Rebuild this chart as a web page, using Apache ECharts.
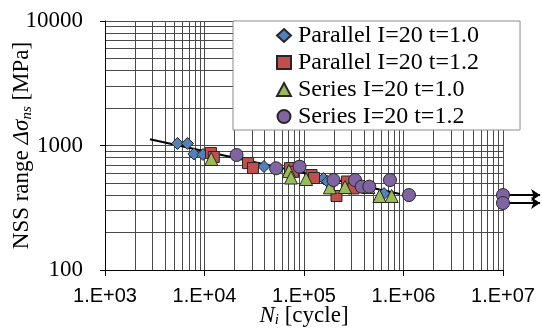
<!DOCTYPE html>
<html>
<head>
<meta charset="utf-8">
<script src="https://cdn.jsdelivr.net/npm/echarts@6/dist/echarts.min.js"></script>
<style>
  html, body { margin: 0; padding: 0; background: #fff; }
  #chart { width: 542px; height: 329px; }
</style>
</head>
<body>
<div id="chart"></div>
<script>
// [N cycles, stress range MPa]
var parallelT10 = [[5350, 1038], [6740, 1038], [7830, 855], [9660, 847], [39600, 678],
  [157000, 543], [172000, 514], [637000, 411]];
var parallelT12 = [[11600, 871], [12400, 809], [27400, 722], [30700, 659], [72300, 659],
  [77500, 613], [119000, 579], [126000, 548], [212000, 393], [271000, 514], [314000, 452]];
var seriesT10 = [[11700, 780], [70600, 623], [74000, 553], [105000, 538], [182000, 461],
  [258000, 464], [444000, 464], [574000, 393], [760000, 393]];
var seriesT12 = [[21000, 839], [52400, 656], [90200, 676], [198000, 528], [326000, 528],
  [380000, 467], [453000, 467], [731000, 528], [1135000, 400], [10000000, 400], [10000000, 345]];
var trendLine = [[2830, 1122], [922000, 408]];
var runouts = [[[10000000, 400], [23600000, 400]], [[10000000, 345], [23600000, 345]]];

var xTicks = [1e3, 1e4, 1e5, 1e6, 1e7];
var yTicks = [100, 1000, 10000];

var serif = '"Liberation Serif", "Times New Roman", serif';
var gridColor = '#4a4a4a';

function scatter(name, data, symbol, size, color) {
  return {
    name: name,
    type: 'scatter',
    data: data,
    symbol: symbol,
    symbolSize: size,
    clip: false,
    z: 4,
    itemStyle: { color: color, borderColor: '#262626', borderWidth: 1, opacity: 1 }
  };
}

var chart = echarts.init(document.getElementById('chart'));
var option = {
  animation: false,
  backgroundColor: '#fff',
  grid: { left: 105, right: 39, top: 21, bottom: 59, containLabel: false, outerBoundsMode: 'none' },
  legend: {
    data: ['Parallel I=20 t=1.0', 'Parallel I=20 t=1.2', 'Series I=20 t=1.0', 'Series I=20 t=1.2'],
    orient: 'vertical',
    left: 233,
    top: 21,
    padding: [1, 41, 0, 43],
    itemGap: 0,
    itemWidth: 14,
    itemHeight: 13,
    backgroundColor: '#fff',
    borderColor: '#8c8c8c',
    borderWidth: 1,
    borderRadius: 0,
    textStyle: { fontFamily: serif, fontSize: 24, color: '#000', lineHeight: 27, padding: [0, 0, 0, 2] }
  },
  xAxis: {
    type: 'log',
    logBase: 10,
    min: xTicks[0],
    max: xTicks[xTicks.length - 1],
    name: '{i|N}{s|i}{n| [cycle]}',
    nameLocation: 'middle',
    nameGap: 34,
    nameMoveOverlap: false,
    nameTextStyle: {
      rich: {
        i: { fontFamily: serif, fontSize: 23, fontStyle: 'italic', color: '#000', lineHeight: 24 },
        s: { fontFamily: serif, fontSize: 15, fontStyle: 'italic', color: '#000', verticalAlign: 'bottom', lineHeight: 14 },
        n: { fontFamily: serif, fontSize: 23, color: '#000', lineHeight: 24 }
      }
    },
    axisLine: { lineStyle: { color: '#000', width: 1 } },
    axisTick: { show: true, inside: false, length: 6, lineStyle: { color: '#000' } },
    axisLabel: {
      margin: 16,
      fontFamily: '"Liberation Sans", Arial, sans-serif',
      fontSize: 20,
      color: '#000',
      formatter: function (v) { return '1.E+' + String(Math.round(Math.log10(v))).padStart(2, '0'); }
    },
    splitLine: { show: true, lineStyle: { color: gridColor, width: 1 } },
    minorTick: { show: false, splitNumber: 9 },
    minorSplitLine: { show: true, lineStyle: { color: gridColor, width: 1 } }
  },
  yAxis: {
    type: 'log',
    logBase: 10,
    min: yTicks[0],
    max: yTicks[yTicks.length - 1],
    name: '{n|NSS range }{g|Δσ}{s|ns}{n| [MPa]}',
    nameLocation: 'middle',
    nameRotate: 90,
    nameGap: 70,
    nameMoveOverlap: false,
    nameTextStyle: {
      rich: {
        n: { fontFamily: serif, fontSize: 23, color: '#000', lineHeight: 26 },
        g: { fontFamily: serif, fontSize: 23, fontStyle: 'italic', color: '#000', lineHeight: 26 },
        s: { fontFamily: serif, fontSize: 15, fontStyle: 'italic', color: '#000', verticalAlign: 'bottom', lineHeight: 14 }
      }
    },
    axisLine: { show: true, lineStyle: { color: '#000', width: 1 } },
    axisTick: { show: true, inside: false, length: 5, lineStyle: { color: '#000' } },
    axisLabel: {
      margin: 22, fontFamily: serif, fontSize: 23, color: '#000',
      formatter: function (v) { return String(Math.round(v)); }
    },
    splitLine: { show: true, lineStyle: { color: gridColor, width: 1 } },
    minorTick: { show: false, splitNumber: 9 },
    minorSplitLine: { show: true, lineStyle: { color: gridColor, width: 1 } }
  },
  series: [
    {
      name: 'trend',
      type: 'line',
      data: trendLine,
      symbol: 'none',
      z: 3,
      lineStyle: { color: '#000', width: 2 }
    },
    {
      name: 'runout',
      type: 'lines',
      coordinateSystem: 'cartesian2d',
      data: runouts.map(function (r) { return { coords: r }; }),
      symbol: ['none', 'arrow'],
      symbolSize: 9,
      clip: false,
      z: 3,
      lineStyle: { color: '#000', width: 2, opacity: 1 }
    },
    scatter('Parallel I=20 t=1.0', parallelT10, 'diamond', 12, '#4f81bd'),
    scatter('Parallel I=20 t=1.2', parallelT12, 'rect', 11, '#c0504d'),
    scatter('Series I=20 t=1.0', seriesT10, 'triangle', 13, '#9bbb59'),
    scatter('Series I=20 t=1.2', seriesT12, 'circle', 13, '#8064a2')
  ]
};
chart.setOption(option);
</script>
</body>
</html>
